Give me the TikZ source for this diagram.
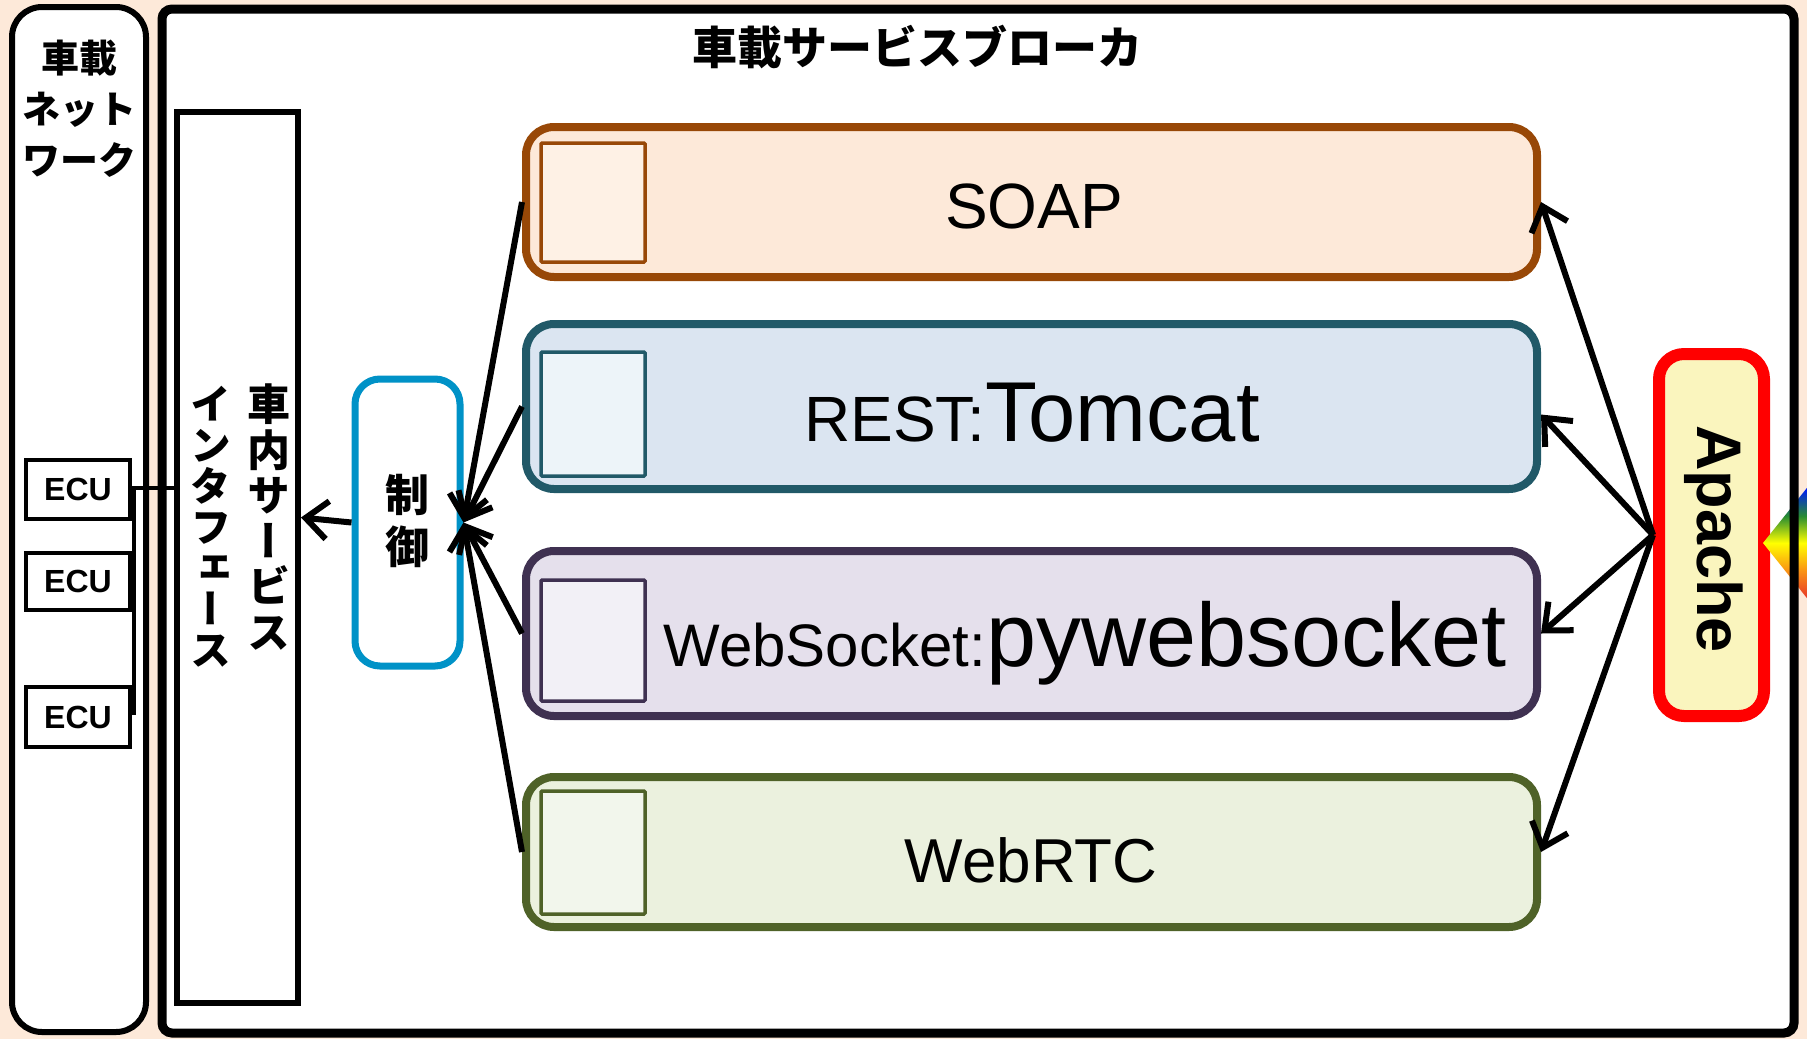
\documentclass[tikz,border=0pt]{standalone}
\usepackage{fontspec}
\setmainfont{Liberation Sans}
\newfontfamily\jp{Noto Sans CJK JP}
\newfontfamily\jpv{Noto Sans CJK JP}[RawFeature=+vert]
\usetikzlibrary{arrows.meta,calc}
\definecolor{peach}{RGB}{253,233,217}
\definecolor{soapfill}{RGB}{253,233,217}
\definecolor{soapline}{RGB}{152,72,7}
\definecolor{soapin}{RGB}{254,241,229}
\definecolor{restfill}{RGB}{219,229,241}
\definecolor{restline}{RGB}{33,89,104}
\definecolor{restin}{RGB}{237,244,249}
\definecolor{wsfill}{RGB}{229,224,236}
\definecolor{wsline}{RGB}{63,49,81}
\definecolor{wsin}{RGB}{242,240,246}
\definecolor{rtcfill}{RGB}{235,241,222}
\definecolor{rtcline}{RGB}{79,98,40}
\definecolor{rtcin}{RGB}{242,246,236}
\definecolor{ctrlline}{RGB}{0,146,199}
\definecolor{apfill}{RGB}{250,245,190}
\definecolor{rbred}{RGB}{232,60,40}
\definecolor{rborange}{RGB}{250,150,20}
\definecolor{rbyellow}{RGB}{255,255,0}
\definecolor{rbgreen}{RGB}{40,140,50}
\definecolor{rbblue}{RGB}{0,30,240}
\pgfdeclareverticalshading{rainbowv}{100bp}{color(0bp)=(rbred); color(34bp)=(rbred); color(42bp)=(rborange); color(50bp)=(rbyellow); color(58bp)=(rbgreen); color(66bp)=(rbblue); color(100bp)=(rbblue)}
\newcommand\setfs[2]{\fontsize{#1}{#2}\selectfont}
\tikzset{
  svc/.style={draw, line width=8pt, rounded corners=28pt, minimum width=1011pt, inner sep=0pt},
  sq/.style={draw, line width=3.5pt, rounded corners=1pt, minimum width=104pt, inner sep=0pt},
  ecubox/.style={draw, line width=4pt, minimum width=104pt, inner sep=0pt, font=\bfseries\setfs{32}{32}},
  arr/.style={line width=6pt, -{Straight Barb[length=22pt,width=38pt,line width=6pt]}},
  lbl/.style={inner sep=0pt, anchor=base},
}
\begin{document}
\begin{tikzpicture}[x=1pt,y=-1pt]
\useasboundingbox (0,0) rectangle (1807,1039);
\fill[peach] (0,0) rectangle (1807,1039);
% left network box
\node[draw, fill=white, line width=6pt, rounded corners=30pt, minimum width=134pt, minimum height=1025pt, inner sep=0pt] (net) at (79,519.5) {};
\node[font=\jp\bfseries\setfs{38}{51}, align=center, inner sep=0pt, anchor=north] (netlbl) at (79,40) {車載\\ネット\\ワーク};
% main broker box
\node[fill=white, line width=9pt, rounded corners=10pt, minimum width=1632pt, minimum height=1024pt, inner sep=0pt] (main) at (978,521) {};
\node[font=\jp\bfseries\setfs{45}{45}, inner sep=0pt] (title) at (917,47) {車載サービスブローカ};
% interface
\node[draw, line width=6pt, minimum width=121pt, minimum height=891pt, inner sep=0pt] (iface) at (237.5,557.5) {};
\node[font=\jpv\bfseries\setfs{43}{45.5}, align=center, inner sep=0pt, anchor=north] (iface1) at (269,384) {車\\内\\サ\\ー\\ビ\\ス};
\node[font=\jpv\bfseries\setfs{41}{41}, align=center, inner sep=0pt, anchor=north] (iface2) at (211,386) {イ\\ン\\タ\\フ\\ェ\\ー\\ス};
% ECUs
\node[ecubox, minimum height=59pt] (ecu1) at (78,489.5) {ECU};
\node[ecubox, minimum height=57pt] (ecu2) at (78,581.5) {ECU};
\node[ecubox, minimum height=60pt] (ecu3) at (78,717) {ECU};
\coordinate (bustop) at (134,488);
\coordinate (busbot) at (134,715);
\draw[line width=4pt] (busbot) -- (bustop) -- (bustop -| iface.west);
% control
\node[draw=ctrlline, fill=white, line width=7pt, rounded corners=25pt, minimum width=105pt, minimum height=287pt, inner sep=0pt] (ctrl) at (407.5,522.5) {};
\node[font=\jp\bfseries\setfs{44}{52}, align=center, inner sep=0pt] (ctrllbl) at (407,521) {制\\御};
% services
\node[svc, draw=soapline, fill=soapfill, minimum height=150pt] (soap) at (1031.5,202) {};
\node[svc, draw=restline, fill=restfill, minimum height=165pt] (rest) at (1031.5,406.5) {};
\node[svc, draw=wsline, fill=wsfill, minimum height=165pt] (ws) at (1031.5,633.5) {};
\node[svc, draw=rtcline, fill=rtcfill, minimum height=150pt] (rtc) at (1031.5,852) {};
\node[sq, draw=soapline, fill=soapin, minimum height=119pt] (soapsq) at (593,202.5) {};
\node[sq, draw=restline, fill=restin, minimum height=124pt] (restsq) at (593,414) {};
\node[sq, draw=wsline, fill=wsin, minimum height=121pt] (wssq) at (593,640.5) {};
\node[sq, draw=rtcline, fill=rtcin, minimum height=123pt] (rtcsq) at (593,852.5) {};
\node[lbl, font=\setfs{64}{64}] (soaplbl) at (1034,228) {SOAP};
\node[lbl, font=\setfs{64}{64}] (restlbl) at (1032,441) {REST:{\setfs{85}{85}Tomcat}};
\node[lbl, font=\setfs{60}{60}] (wslbl) at (1085,666) {WebSocket:{\setfs{90}{90}pywebsocket}};
\node[lbl, font=\setfs{62}{62}] (rtclbl) at (1031,882) {WebRTC};
% apache
\node[draw=red, fill=apfill, line width=12pt, rounded corners=25pt, minimum width=105pt, minimum height=362pt, inner sep=0pt] (apache) at (1711.5,535) {};
\node[lbl, rotate=-90, font=\bfseries\setfs{63}{63}] (aplbl) at (1697,539) {Apache};
% rainbow diamond, under the broker border
\shade[shading=rainbowv] (1763,543) -- (1830,459) -- (1897,543) -- (1830,627) -- cycle;
\node[draw, line width=9pt, rounded corners=10pt, minimum width=1632pt, minimum height=1024pt, inner sep=0pt] (mainb) at (978,521) {};
% arrows
\draw[arr] (ctrl.west) -- ($(iface.east)+(0,-40)$);
\draw[arr] (soap.west) -- (ctrl.east);
\draw[arr] (rest.west) -- (ctrl.east);
\draw[arr] (ws.west) -- (ctrl.east);
\draw[arr] (rtc.west) -- (ctrl.east);
\draw[arr] (apache.west) -- (soap.east);
\draw[arr] (apache.west) -- ($(rest.east)+(0,8)$);
\draw[arr] (apache.west) -- (ws.east);
\draw[arr] (apache.west) -- (rtc.east);
\end{tikzpicture}
\end{document}
